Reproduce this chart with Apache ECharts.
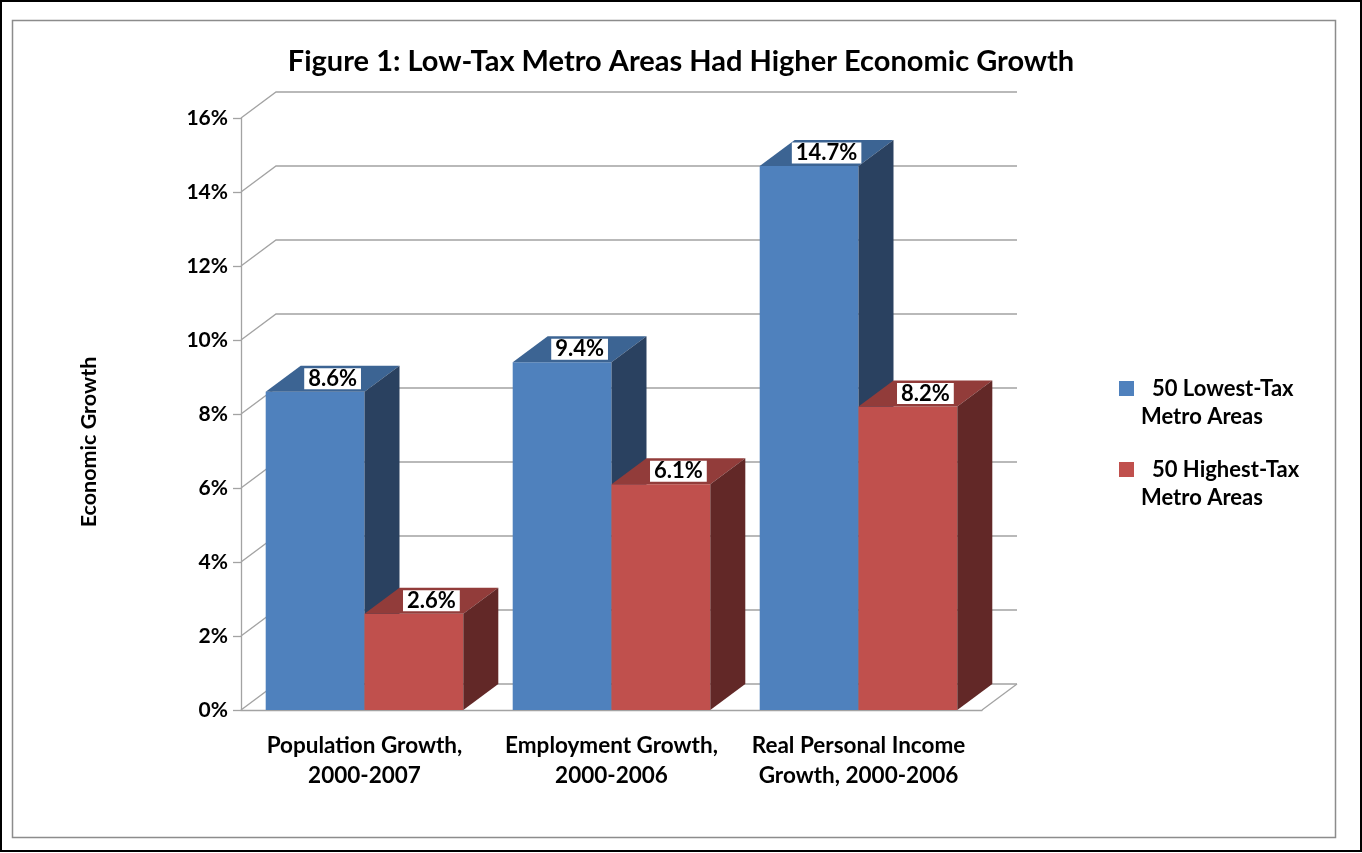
<!DOCTYPE html>
<html>
<head>
<meta charset="utf-8">
<script src="https://cdn.jsdelivr.net/npm/echarts@6/dist/echarts.min.js"></script>
<style>
  html, body { margin: 0; padding: 0; background: #fff; }
  #chart { width: 1362px; height: 853px; }
</style>
</head>
<body>
<div id="chart"></div>
<script>
// Growth figures by metro tax group
const categories = ['Population Growth,\n2000-2007', 'Employment Growth,\n2000-2006', 'Real Personal Income\nGrowth, 2000-2006'];
const lowTaxGrowth = [8.6, 9.4, 14.7];
const highTaxGrowth = [2.6, 6.1, 8.2];
const seriesNames = ['50 Lowest-Tax\nMetro Areas', '50 Highest-Tax\nMetro Areas'];
const yTicks = [0, 2, 4, 6, 8, 10, 12, 14, 16];

const FONT = 'Lato, "Open Sans", sans-serif';
const DEPTH_X = 35, DEPTH_Y = -26;       // oblique offset of the back wall
const GRID_COLOR = '#a3a3a3';

// face colours: [front, top, side]
const palettes = [
  ['#4f81bd', '#3c6493', '#2a4160'],
  ['#c0504d', '#923c3a', '#622827']
];

function gridRender(params, api) {
  const cs = params.coordSys;
  const y = api.coord([0, api.value(0)])[1];
  const x0 = cs.x, x1 = cs.x + cs.width;
  const children = [{
    type: 'polyline',
    shape: { points: [[x0, y], [x0 + DEPTH_X, y + DEPTH_Y], [x1 + DEPTH_X, y + DEPTH_Y]] },
    style: { stroke: GRID_COLOR, lineWidth: 1.3, fill: null }
  }];
  if (api.value(0) === 0) {
    children.push({
      type: 'line',
      shape: { x1: x1, y1: y, x2: x1 + DEPTH_X, y2: y + DEPTH_Y },
      style: { stroke: GRID_COLOR, lineWidth: 1.3 }
    });
  }
  return { type: 'group', children };
}

function barRender(seriesIdx) {
  return function (params, api) {
    const idx = api.value(0), val = api.value(1);
    const base = api.coord([idx, 0]);
    const top = api.coord([idx, val]);
    const catW = api.size([1, 0])[0];
    const bw = catW * 0.4;
    const x0 = base[0] - bw + seriesIdx * bw;
    const x1 = x0 + bw;
    const yb = base[1], yt = top[1];
    const pal = palettes[seriesIdx];
    return {
      type: 'group',
      children: [
        { type: 'rect', shape: { x: x0, y: yt, width: bw, height: yb - yt }, style: { fill: pal[0] } },
        { type: 'polygon', shape: { points: [[x0, yt], [x1, yt], [x1 + DEPTH_X, yt + DEPTH_Y], [x0 + DEPTH_X, yt + DEPTH_Y]] }, style: { fill: pal[1] } },
        { type: 'polygon', shape: { points: [[x1, yt], [x1 + DEPTH_X, yt + DEPTH_Y], [x1 + DEPTH_X, yb + DEPTH_Y], [x1, yb]] }, style: { fill: pal[2] } },
        {
          type: 'text', z2: 10,
          x: x0 + bw / 2 + DEPTH_X / 2, y: yt + DEPTH_Y / 2,
          style: {
            text: val.toFixed(1) + '%', fill: '#000',
            font: 'bold 22px ' + FONT, align: 'center', verticalAlign: 'middle',
            lineHeight: 21, backgroundColor: '#fff', padding: [0, 4, 0, 4]
          }
        }
      ]
    };
  };
}

const chart = echarts.init(document.getElementById('chart'), null, { renderer: 'canvas' });

const legendTop = [389, 470];
const legendGraphics = [];
seriesNames.forEach((name, i) => {
  const lines = name.split('\n');
  legendGraphics.push({ type: 'rect', shape: { x: 1119, y: legendTop[i] - 8, width: 15, height: 15 }, style: { fill: palettes[i][0] } });
  legendGraphics.push({ type: 'text', x: 1152, y: legendTop[i], style: { text: lines[0], font: 'bold 22px ' + FONT, fill: '#000', verticalAlign: 'middle' } });
  legendGraphics.push({ type: 'text', x: 1141, y: legendTop[i] + 28, style: { text: lines[1], font: 'bold 22px ' + FONT, fill: '#000', verticalAlign: 'middle' } });
});

chart.setOption({
  animation: false,
  backgroundColor: '#fff',
  title: {
    text: 'Figure 1: Low-Tax Metro Areas Had Higher Economic Growth',
    left: 'center', top: 42,
    textStyle: { fontFamily: FONT, fontWeight: 'bold', fontSize: 29, color: '#000' }
  },
  grid: { left: 241, right: 380, top: 118, bottom: 143 },
  xAxis: {
    type: 'category',
    data: categories,
    axisLine: { lineStyle: { color: GRID_COLOR, width: 1.3 } },
    axisTick: { length: 8, lineStyle: { color: GRID_COLOR, width: 1.3 } },
    axisLabel: { margin: 21, color: '#000', fontFamily: FONT, fontWeight: 'bold', fontSize: 22.5, lineHeight: 30, interval: 0 }
  },
  yAxis: {
    type: 'value', min: 0, max: 16, interval: 2,
    axisLine: { show: true, lineStyle: { color: GRID_COLOR, width: 1.3 } },
    axisTick: { show: true, length: 8, lineStyle: { color: GRID_COLOR, width: 1.3 } },
    splitLine: { show: false },
    axisLabel: { margin: 13, color: '#000', fontFamily: FONT, fontWeight: 'bold', fontSize: 21, formatter: '{value}%' }
  },
  series: [
    { type: 'custom', name: 'grid', renderItem: gridRender, data: yTicks.map(v => [v]), encode: { y: 0 }, clip: false, silent: true, z: 1 },
    { type: 'custom', name: seriesNames[0], renderItem: barRender(0), data: lowTaxGrowth.map((v, i) => [i, v]), encode: { x: 0, y: 1 }, clip: false, z: 2 },
    { type: 'custom', name: seriesNames[1], renderItem: barRender(1), data: highTaxGrowth.map((v, i) => [i, v]), encode: { x: 0, y: 1 }, clip: false, z: 3 }
  ],
  graphic: [
    { type: 'rect', shape: { x: 1, y: 1, width: 1360, height: 850 }, style: { fill: null, stroke: '#000', lineWidth: 2 }, z: -1 },
    { type: 'rect', shape: { x: 12.5, y: 20.5, width: 1323, height: 817 }, style: { fill: null, stroke: '#8c8c8c', lineWidth: 1.5 }, z: -1 },
    {
      type: 'text', x: 89, y: 442, rotation: Math.PI / 2,
      style: { text: 'Economic Growth', font: 'bold 21.5px ' + FONT, fill: '#000', align: 'center', verticalAlign: 'middle' }
    }
  ].concat(legendGraphics)
});
</script>
</body>
</html>
